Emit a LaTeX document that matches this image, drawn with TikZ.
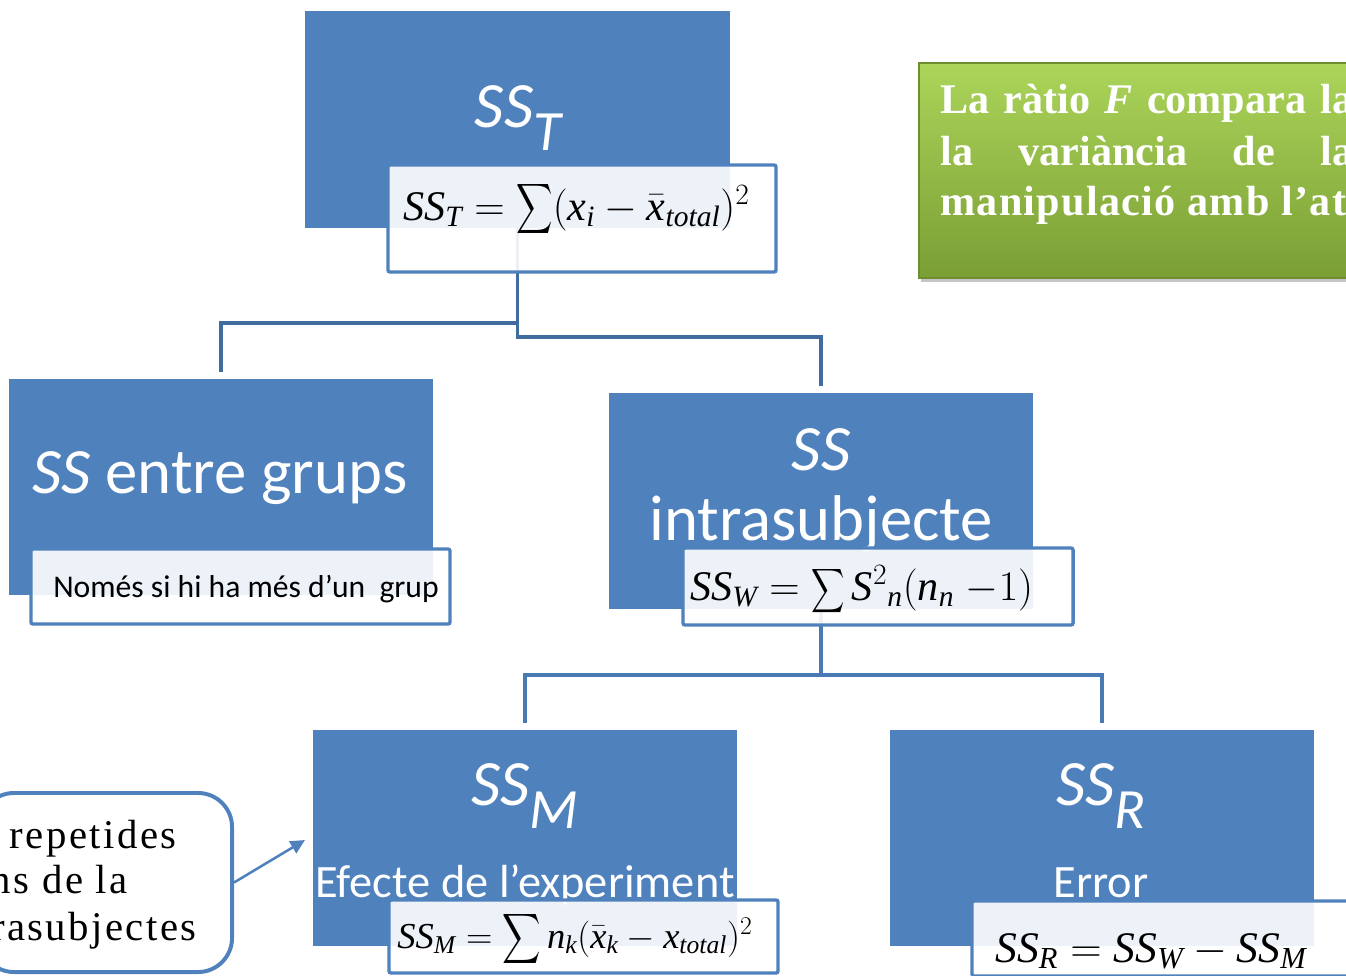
\RequirePackage{fix-cm}
\documentclass[tikz,border=0pt]{standalone}
\usepackage{amsmath}
\usepackage{fontspec}
\usepackage{graphicx}
\setmainfont{Liberation Serif}
\newfontfamily\calibri{Carlito}
\usetikzlibrary{positioning,shadows,arrows.meta}

\definecolor{ssblue}{RGB}{79,129,189}
\definecolor{linkblue}{RGB}{64,108,160}
\definecolor{linkblue2}{RGB}{74,122,180}
\definecolor{grtop}{RGB}{172,213,90}
\definecolor{grbot}{RGB}{122,158,52}

\newcommand{\ssub}[1]{\raisebox{-0.36em}{\scalebox{0.88}{#1}}}
\newcommand{\bigsum}[2]{\mathop{\scalebox{#1}[#2]{$\displaystyle\sum$}}}

\tikzset{
  bluebox/.style={fill=ssblue, minimum width=10.6cm, minimum height=5.4cm, inner sep=0pt},
  formbox/.style={draw=ssblue, line width=2.4pt, fill=white, fill opacity=0.9, rounded corners=1.5pt, inner sep=0pt},
  title/.style={text=white, font=\calibri\fontsize{46}{50}\selectfont, inner sep=0pt, anchor=base},
  subtitle/.style={text=white, font=\calibri\fontsize{33}{38}\selectfont, inner sep=0pt, anchor=base},
  formula/.style={font=\fontsize{30}{36}\selectfont, inner sep=0pt, anchor=base west},
  calltext/.style={font=\fontsize{29}{34}\selectfont\addfontfeatures{LetterSpace=6}, inner sep=0pt, anchor=base east},
  ratiotext/.style={text=white, font=\bfseries\fontsize{30}{36}\selectfont, inner sep=0pt, anchor=base west},
  conn/.style={draw=linkblue, line width=2.8pt},
  pointer/.style={draw=ssblue, line width=1.8pt, -{Triangle[length=3.6mm,width=3.4mm]}},
}

\begin{document}
\begin{tikzpicture}[x=0.025cm,y=-0.025cm]
\clip (0,0) rectangle (1346,975);
\fill[white] (0,0) rectangle (1346,975);

% caixes blaves
\node[bluebox] (sstbox) at (517.5,119.5) {};
\node[bluebox] (entrebox) at (221,487) {};
\node[bluebox] (intrabox) at (821,501) {};
\node[bluebox] (ssmbox) at (525,838) {};
\node[bluebox] (ssrbox) at (1102,838) {};

% connectors
\coordinate (splitL) at (517.5,323);
\coordinate (splitR) at (517.5,337);
\coordinate (splitB) at (821,675);
\draw[conn, shorten >=5pt] (sstbox.south) -- (splitR) -| (intrabox.north);
\draw[conn, shorten >=5pt] (splitL) -| (entrebox.north);
\draw[conn, draw=linkblue2] (intrabox.south) -- (splitB);
\draw[conn, draw=linkblue2, shorten <=5pt, shorten >=5pt] (ssmbox.north) |- (splitB) -| (ssrbox.north);

% textos
\node[title] (ssttxt) at (518,127) {\itshape SS\ssub{T}};
\node[title] (entretxt) at (220,493) {{\itshape SS} entre grups};
\node[title] (intratxt) at (821,470) {\itshape SS};
\node[title] (intrasub) at (821,540) {intrasubjecte};
\node[title] (ssmtxt) at (525,805) {\itshape SS\ssub{M}};
\node[subtitle] (ssmsub) at (525,897) {Efecte de l’experiment};
\node[title] (ssrtxt) at (1101,805) {\itshape SS\ssub{R}};
\node[subtitle] (ssrsub) at (1101,897) {Error};

% formules
\node[formbox, minimum width=9.7cm, minimum height=2.675cm] (sstform) at (582,218.5) {};
\node[formbox, minimum width=10.475cm, minimum height=1.875cm] (entreform) at (240.5,586.5) {};
\node[formbox, minimum width=9.75cm, minimum height=1.925cm] (intraform) at (878,586.5) {};
\node[formbox, minimum width=9.725cm, minimum height=1.825cm] (ssmform) at (583.5,936.5) {};
\node[formbox, minimum width=9.725cm, minimum height=1.875cm] (ssrform) at (1166.5,938.5) {};

\node[formula] (sstf) at (403,220)
  {$\mathit{SS}_{\mathit{T}} = \bigsum{0.72}{1.0}(\mathit{x}_{\mathit{i}} - \bar{\mathit{x}}_{\mathit{total}})^2$};
\node[font=\calibri\fontsize{22.5}{27}\selectfont, inner sep=0pt, anchor=base west] (entrenote) at (53,597)
  {Només si hi ha més d’un\ \ grup};
\node[formula] (intraf) at (690,600)
  {$\mathit{SS}_{\mathit{W}} = \bigsum{0.66}{0.88}\mathit{S}^{2}{}_{\mathit{n}}(\mathit{n}_{\mathit{n}}\;{-}1)$};
\node[formula, font=\fontsize{26}{31}\selectfont] (ssmf) at (397,948)
  {$\mathit{SS}_{\mathit{M}} = \bigsum{0.76}{1.0}\mathit{n}_{\mathit{k}}(\bar{\mathit{x}}_{\mathit{k}} - \mathit{x}_{\mathit{total}})^2$};
\node[formula, font=\fontsize{31}{37}\selectfont] (ssrf) at (995,962)
  {$\mathit{SS}_{\mathit{R}} = \mathit{SS}_{\mathit{W}} - \mathit{SS}_{\mathit{M}}$};

% nota de mesures repetides
\node[draw=ssblue, line width=2.8pt, fill=white, rounded corners=0.85cm,
      minimum width=6.3cm, minimum height=4.475cm] (callout) at (106,882.5) {};
\node[calltext] (call1) at (177,848) {repetides};
\node[calltext] (call2) at (128,893) {ns de la};
\node[calltext] (call3) at (197,940) {rasubjectes};
\coordinate (calltip) at (305,840);
\draw[pointer] (callout.east) -- (calltip);

% ratio F
\node[top color=grtop, bottom color=grbot, draw=grbot!90!black, line width=0.8pt,
      drop shadow={shadow xshift=1.5pt, shadow yshift=-2.5pt, opacity=0.45},
      minimum width=12.025cm, minimum height=5.375cm] (ratio) at (1159.5,170.5) {};
\node[ratiotext] (ratio1) at (940,113) {\makebox[10.325cm][s]{La ràtio \textit{F} compara la}};
\node[ratiotext] (ratio2) at (940,165) {\makebox[10.325cm][s]{la variància de la}};
\node[ratiotext] (ratio3) at (940,215) {\addfontfeatures{LetterSpace=3}manipulació amb l’at};
\end{tikzpicture}
\end{document}
